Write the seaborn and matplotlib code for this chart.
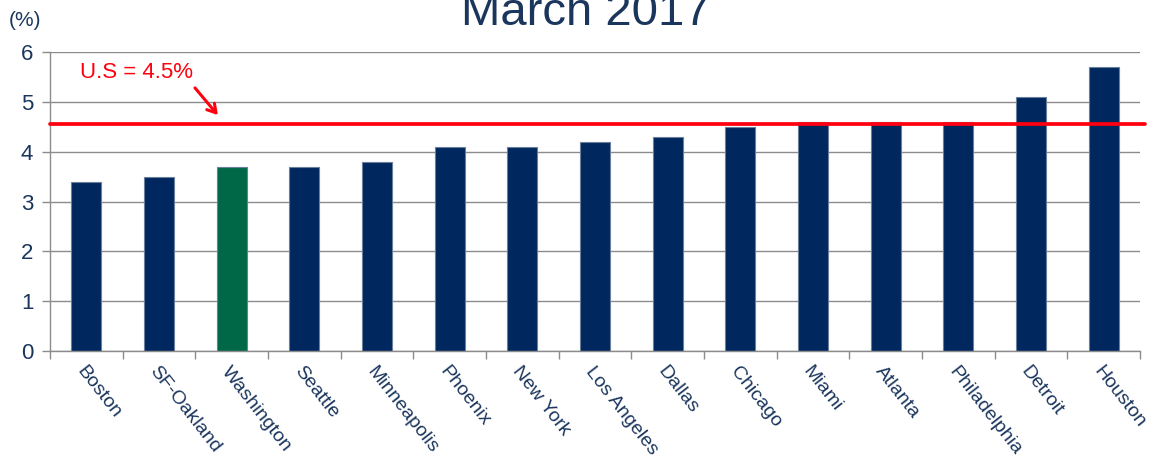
import pandas as pd
import numpy as np
import seaborn as sns
import matplotlib.pyplot as plt

# data
cities = ['Boston', 'SF-Oakland', 'Washington', 'Seattle', 'Minneapolis', 'Phoenix',
          'New York', 'Los Angeles', 'Dallas', 'Chicago', 'Miami', 'Atlanta',
          'Philadelphia', 'Detroit', 'Houston']
rates = [3.4, 3.5, 3.7, 3.7, 3.8, 4.1, 4.1, 4.2, 4.3, 4.5, 4.6, 4.6, 4.6, 5.1, 5.7]
us_rate = 4.55
highlight = 'Washington'

navy = '#00285E'
green = '#006847'
text_col = '#1B365D'
red = '#FF0010'

sns.set_theme(style='white')
plt.rcParams['font.family'] = ['Liberation Sans', 'DejaVu Sans']

df = pd.DataFrame({'city': cities, 'rate': rates})
palette = {c: (green if c == highlight else navy) for c in cities}

fig = plt.figure(figsize=(11.55, 4.62), dpi=100)
ax = fig.add_axes([0.0433, 0.2403, 0.9437, 0.6471])

sns.barplot(data=df, x='city', y='rate', hue='city', palette=palette, legend=False,
            width=0.41, edgecolor='#6A7F9C', linewidth=0.8, saturation=1, ax=ax, zorder=2)

# US average line
ax.axhline(us_rate, color=red, linewidth=2.7, zorder=3, xmax=1.005, clip_on=False)

ax.set_ylim(0, 6)
ax.set_xlim(-0.5, len(cities) - 0.5)
ax.set_yticks(range(0, 7))
ax.yaxis.grid(True, color='#8C8C8C', linewidth=1)
ax.set_axisbelow(True)
ax.set_xlabel('')
ax.set_ylabel('')

for s in ['top', 'right']:
    ax.spines[s].set_visible(False)
for s in ['left', 'bottom']:
    ax.spines[s].set_color('#8C8C8C')
    ax.spines[s].set_linewidth(1)

ax.tick_params(axis='y', which='major', length=6, width=1, color='#8C8C8C',
               labelsize=16, labelcolor=text_col, pad=6, left=True)
ax.tick_params(axis='x', which='major', length=0, labelsize=14, labelcolor=text_col, pad=9)
ax.set_xticks(np.arange(-0.5, len(cities), 1), minor=True)
ax.tick_params(axis='x', which='minor', length=6, width=1, color='#8C8C8C', bottom=True)

for lbl in ax.get_xticklabels():
    lbl.set_rotation(-52)
    lbl.set_ha('left')
    lbl.set_va('top')
    lbl.set_rotation_mode('anchor')

# label and arrow
ax.text(0.0275, 0.93, 'U.S = 4.5%', transform=ax.transAxes, color=red,
        fontsize=16, va='center', ha='left')
ax.annotate('', xy=(0.154, 0.789), xycoords='axes fraction',
            xytext=(0.133, 0.88), textcoords='axes fraction',
            arrowprops=dict(arrowstyle='->,head_length=0.5,head_width=0.3',
                            color=red, lw=2.2, shrinkA=0, shrinkB=0))

fig.text(0.008, 1 - 20 / 462, '(%)', color=text_col, fontsize=15, ha='left', va='center')
fig.text(0.507, 1 - 25 / 462, 'March 2017', color=text_col, fontsize=34, ha='center',
         va='baseline')

plt.savefig('out.png', dpi=100)
